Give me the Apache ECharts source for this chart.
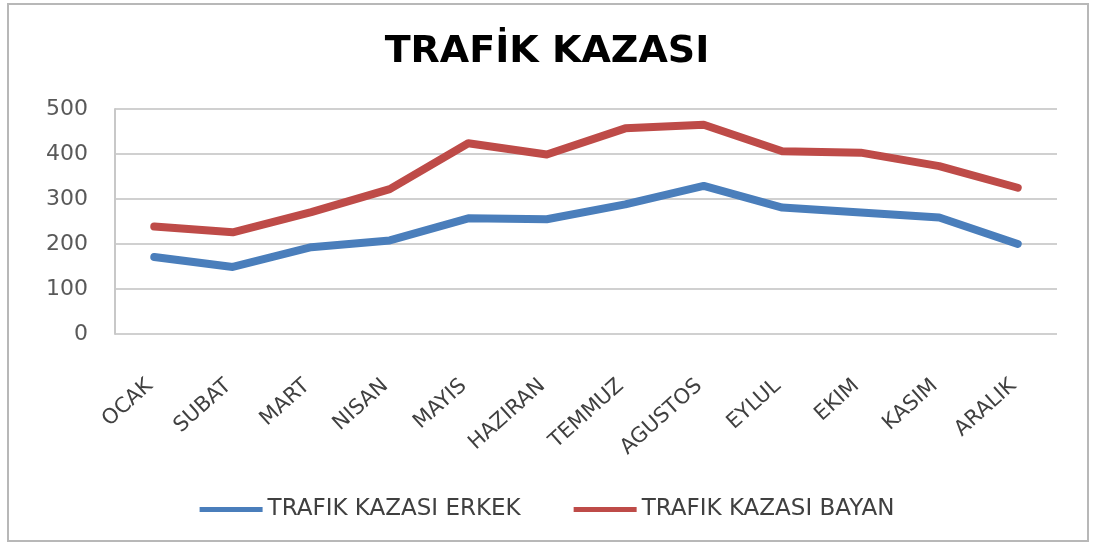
<!DOCTYPE html>
<html>
<head>
<meta charset="utf-8">
<script src="https://cdn.jsdelivr.net/npm/echarts@6/dist/echarts.min.js"></script>
<style>
  html, body { margin: 0; padding: 0; background: #fff; }
  #main { width: 1094px; height: 547px; }
</style>
</head>
<body>
<div id="main"></div>
<script>
// aylar
var months = ['OCAK', 'SUBAT', 'MART', 'NISAN', 'MAYIS', 'HAZIRAN', 'TEMMUZ', 'AGUSTOS', 'EYLUL', 'EKIM', 'KASIM', 'ARALIK'];
var erkek = [171, 149, 193, 208, 257, 255, 288, 329, 281, 270, 259, 200];
var bayan = [239, 226, 271, 322, 424, 399, 457, 465, 406, 403, 373, 325];
var seriesNames = ['TRAFIK KAZASI ERKEK', 'TRAFIK KAZASI BAYAN'];

var chart = echarts.init(document.getElementById('main'));

var option = {
    backgroundColor: '#fff',
    animation: false,
    color: ['#4a7ebb', '#be4b48'],
    graphic: [{
        type: 'rect',
        shape: { x: 8, y: 4, width: 1080, height: 537 },
        style: { fill: 'none', stroke: '#b8b8b8', lineWidth: 2 }
    }],
    title: {
        text: 'TRAFİK KAZASI',
        left: 'center',
        top: 28,
        textStyle: {
            fontFamily: 'DejaVu Sans',
            fontWeight: 'bold',
            fontSize: 38,
            color: '#000'
        }
    },
    legend: {
        top: 493,
        left: 'center',
        itemWidth: 63,
        itemHeight: 5,
        itemGap: 53,
        icon: 'rect',
        textStyle: {
            fontFamily: 'DejaVu Sans',
            fontSize: 23,
            color: '#404040'
        },
        data: seriesNames
    },
    grid: {
        left: 115,
        right: 37,
        top: 109,
        bottom: 213
    },
    xAxis: {
        type: 'category',
        data: months,
        boundaryGap: true,
        axisLine: { show: false },
        axisTick: { show: false },
        axisLabel: {
            rotate: 42,
            margin: 45,
            interval: 0,
            padding: [0, 6, 0, 0],
            fontFamily: 'DejaVu Sans',
            fontSize: 21,
            color: '#404040'
        }
    },
    yAxis: {
        type: 'value',
        min: 0,
        max: 500,
        interval: 100,
        axisLine: { show: true, lineStyle: { color: '#c8c8c8', width: 2 } },
        axisTick: { show: false },
        axisLabel: {
            margin: 27,
            fontFamily: 'DejaVu Sans',
            fontSize: 22,
            color: '#595959'
        },
        splitLine: { lineStyle: { color: '#d0d0d0', width: 2 } }
    },
    series: [
        {
            name: seriesNames[0],
            type: 'line',
            data: erkek,
            showSymbol: false,
            lineStyle: { width: 8, cap: 'round', join: 'round' }
        },
        {
            name: seriesNames[1],
            type: 'line',
            data: bayan,
            showSymbol: false,
            lineStyle: { width: 8, cap: 'round', join: 'round' }
        }
    ]
};

chart.setOption(option);
</script>
</body>
</html>
